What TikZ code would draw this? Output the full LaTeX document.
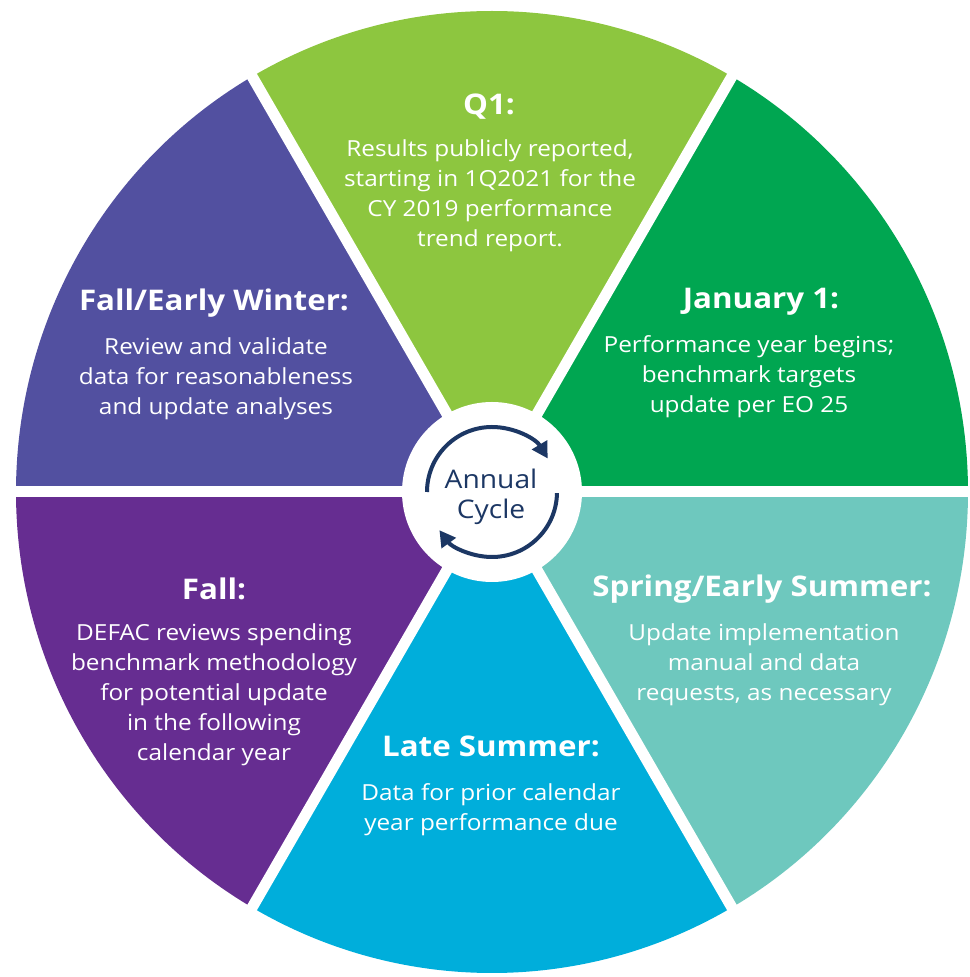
\documentclass[tikz,border=0pt]{standalone}
\usepackage{fontspec}
\setmainfont{Open Sans}[FakeStretch=1.1]
\usetikzlibrary{arrows.meta}
\definecolor{JanGreen}{HTML}{00A651}
\definecolor{QOneLime}{HTML}{8DC63F}
\definecolor{WinterIndigo}{HTML}{5250A0}
\definecolor{FallPurple}{HTML}{662D91}
\definecolor{SummerCyan}{HTML}{00AEDB}
\definecolor{SpringTeal}{HTML}{6EC8BE}
\definecolor{CycleNavy}{HTML}{1C3764}
\tikzset{
  headnode/.style={
    font=\fontsize{16.2}{19}\selectfont\bfseries,text=white,
    align=center,inner sep=0pt,anchor=base
  },
  bodynode/.style={
    font=\fontsize{12.6}{17.07}\selectfont,text=white,
    align=center,inner sep=0pt
  },
  cyclelabel/.style={
    font=\fontsize{14.6}{17.07}\selectfont,text=CycleNavy,
    align=center,inner sep=0pt
  },
  gapline/.style={draw=white,line width=0.22cm},
  cyclearrow/.style={
    draw=CycleNavy,line width=0.08cm,
    -{Triangle[length=0.32cm,width=0.34cm]}
  },
}

\begin{document}
\begin{tikzpicture}[x=0.02cm,y=0.02cm]
  \useasboundingbox (0,0) rectangle (970,977);
  \coordinate (hub) at (492,485);
  % slices of the wheel
  \fill[JanGreen] (hub) -- ++(0:476 and 481) arc[start angle=0, end angle=60, x radius=476, y radius=481] -- cycle;
  \fill[QOneLime] (hub) -- ++(60:476 and 481) arc[start angle=60, end angle=120, x radius=476, y radius=481] -- cycle;
  \fill[WinterIndigo] (hub) -- ++(120:476 and 481) arc[start angle=120, end angle=180, x radius=476, y radius=481] -- cycle;
  \fill[FallPurple] (hub) -- ++(180:476 and 481) arc[start angle=180, end angle=240, x radius=476, y radius=481] -- cycle;
  \fill[SummerCyan] (hub) -- ++(240:476 and 481) arc[start angle=240, end angle=300, x radius=476, y radius=481] -- cycle;
  \fill[SpringTeal] (hub) -- ++(300:476 and 481) arc[start angle=300, end angle=360, x radius=476, y radius=481] -- cycle;
  % white gaps and hub
  \draw[gapline] (hub) -- ++(0:500);
  \draw[gapline] (hub) -- ++(60:500);
  \draw[gapline] (hub) -- ++(120:500);
  \draw[gapline] (hub) -- ++(180:500);
  \draw[gapline] (hub) -- ++(240:500);
  \draw[gapline] (hub) -- ++(300:500);
  \fill[white] (hub) circle[radius=90];
  \draw[cyclearrow] (hub) ++(180:65) arc[start angle=180, end angle=31, radius=65];
  \draw[cyclearrow] (hub) ++(-1:65) arc[start angle=-1, end angle=-144, radius=65];
  \node[cyclelabel] (cycle) at (491,480) {Annual\\Cycle};
  % phase texts
  \node[headnode] (qonehead) at (489,862) {Q1:};
  \node[bodynode] (qonebody) at (490,781) {Results publicly reported,\\starting in 1Q2021 for the\\CY 2019 performance\\trend report.};
  \node[headnode] (janhead) at (761,668) {January 1:};
  \node[bodynode] (janbody) at (749,600) {Performance year begins;\\benchmark targets\\update per EO 25};
  \node[headnode] (winterhead) at (214,666) {Fall/Early Winter:};
  \node[bodynode] (winterbody) at (216,598) {Review and validate\\data for reasonableness\\and update analyses};
  \node[headnode] (springhead) at (762,380) {Spring/Early Summer:};
  \node[bodynode] (springbody) at (764,312) {Update implementation\\manual and data\\requests, as necessary};
  \node[headnode] (fallhead) at (214,377) {Fall:};
  \node[bodynode] (fallbody) at (214,282) {DEFAC reviews spending\\benchmark methodology\\for potential update\\in the following\\calendar year};
  \node[headnode] (summerhead) at (491,220) {Late Summer:};
  \node[bodynode] (summerbody) at (491,167) {Data for prior calendar\\year performance due};
\end{tikzpicture}
\end{document}
